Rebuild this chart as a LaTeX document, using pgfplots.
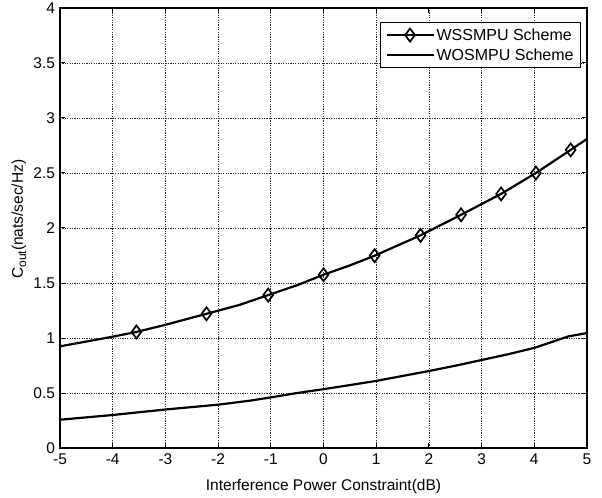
\documentclass[border=0pt]{standalone}
\usepackage{pgfplots}
\pgfplotsset{compat=1.18}
\usepackage{fontspec}
\setmainfont{Liberation Sans}
\begin{document}
\begin{tikzpicture}
\begin{axis}[
  scale only axis,
  width=527pt, height=440pt,
  xmin=-5, xmax=5, ymin=0, ymax=4,
  xtick={-5,-4,...,5},
  ytick={0,0.5,...,4},
  yticklabels={0,0.5,1,1.5,2,2.5,3,3.5,4},
  /pgf/number format/assume math mode=true,
  tick label style={font=\fontsize{15.5}{18}\selectfont},
  xticklabel style={yshift=-2pt},
  yticklabel style={xshift=-1.5pt},
  label style={font=\fontsize{15.5}{18}\selectfont},
  grid=major,
  major grid style={black!85, line width=0.7pt, dash pattern=on 1.2pt off 1.2pt},
  axis line style={line width=1.3pt},
  major tick length=5pt,
  tick style={black, line width=1pt},
  xlabel={Interference Power Constraint(dB)},
  ylabel={C\raisebox{-0.4ex}{\fontsize{12}{13}\selectfont out}(nats/sec/Hz)},
  xlabel style={at={(axis description cs:0.5,-0.0886)}, anchor=center},
  ylabel style={at={(axis description cs:-0.078,0.52)}, anchor=center},
  legend style={at={(0.9886,0.968)}, anchor=north east, draw=black, line width=0.9pt,
    font=\fontsize{16}{19}\selectfont, inner xsep=5pt, inner ysep=4pt, row sep=3pt},
  legend cell align=left,
  legend image code/.code={
    \draw[#1] (0pt,0pt) -- (47pt,0pt);
    \draw[#1, mark indices={1}] plot coordinates {(23.5pt,0pt)};
  },
]
\addplot[black, line width=2.2pt, mark=diamond, mark size=6.5pt,
  mark options={solid, line width=1.7pt, fill=white},
  mark indices={3,5,7,9,11,13,14,15,16,17}] coordinates {
  (-5,0.924) (-4,1.012) (-3.55,1.055) (-3,1.12) (-2.22,1.22) (-1.6,1.30)
  (-1.05,1.39) (-0.5,1.48) (0,1.575) (0.5,1.66) (0.97,1.748) (1.4,1.84)
  (1.84,1.933) (2.61,2.12) (3.37,2.31) (4.03,2.50) (4.69,2.71) (5,2.81)
};
\addlegendentry{WSSMPU Scheme}
\addplot[black, line width=2.2pt, mark=none] coordinates {
  (-5,0.257) (-4,0.30) (-3,0.35) (-2,0.394) (-1.4,0.43) (-1,0.46)
  (-0.5,0.50) (0,0.535) (0.5,0.572) (1,0.61) (1.5,0.655) (2,0.70)
  (2.5,0.748) (3,0.80) (3.5,0.852) (4,0.91) (4.65,1.015) (5,1.045)
};
\addlegendentry{WOSMPU Scheme}
\end{axis}
\pgfresetboundingbox
\path ([xshift=-60pt,yshift=-49pt]current axis.south west) rectangle ([xshift=15pt,yshift=8pt]current axis.north east);
\end{tikzpicture}
\end{document}
